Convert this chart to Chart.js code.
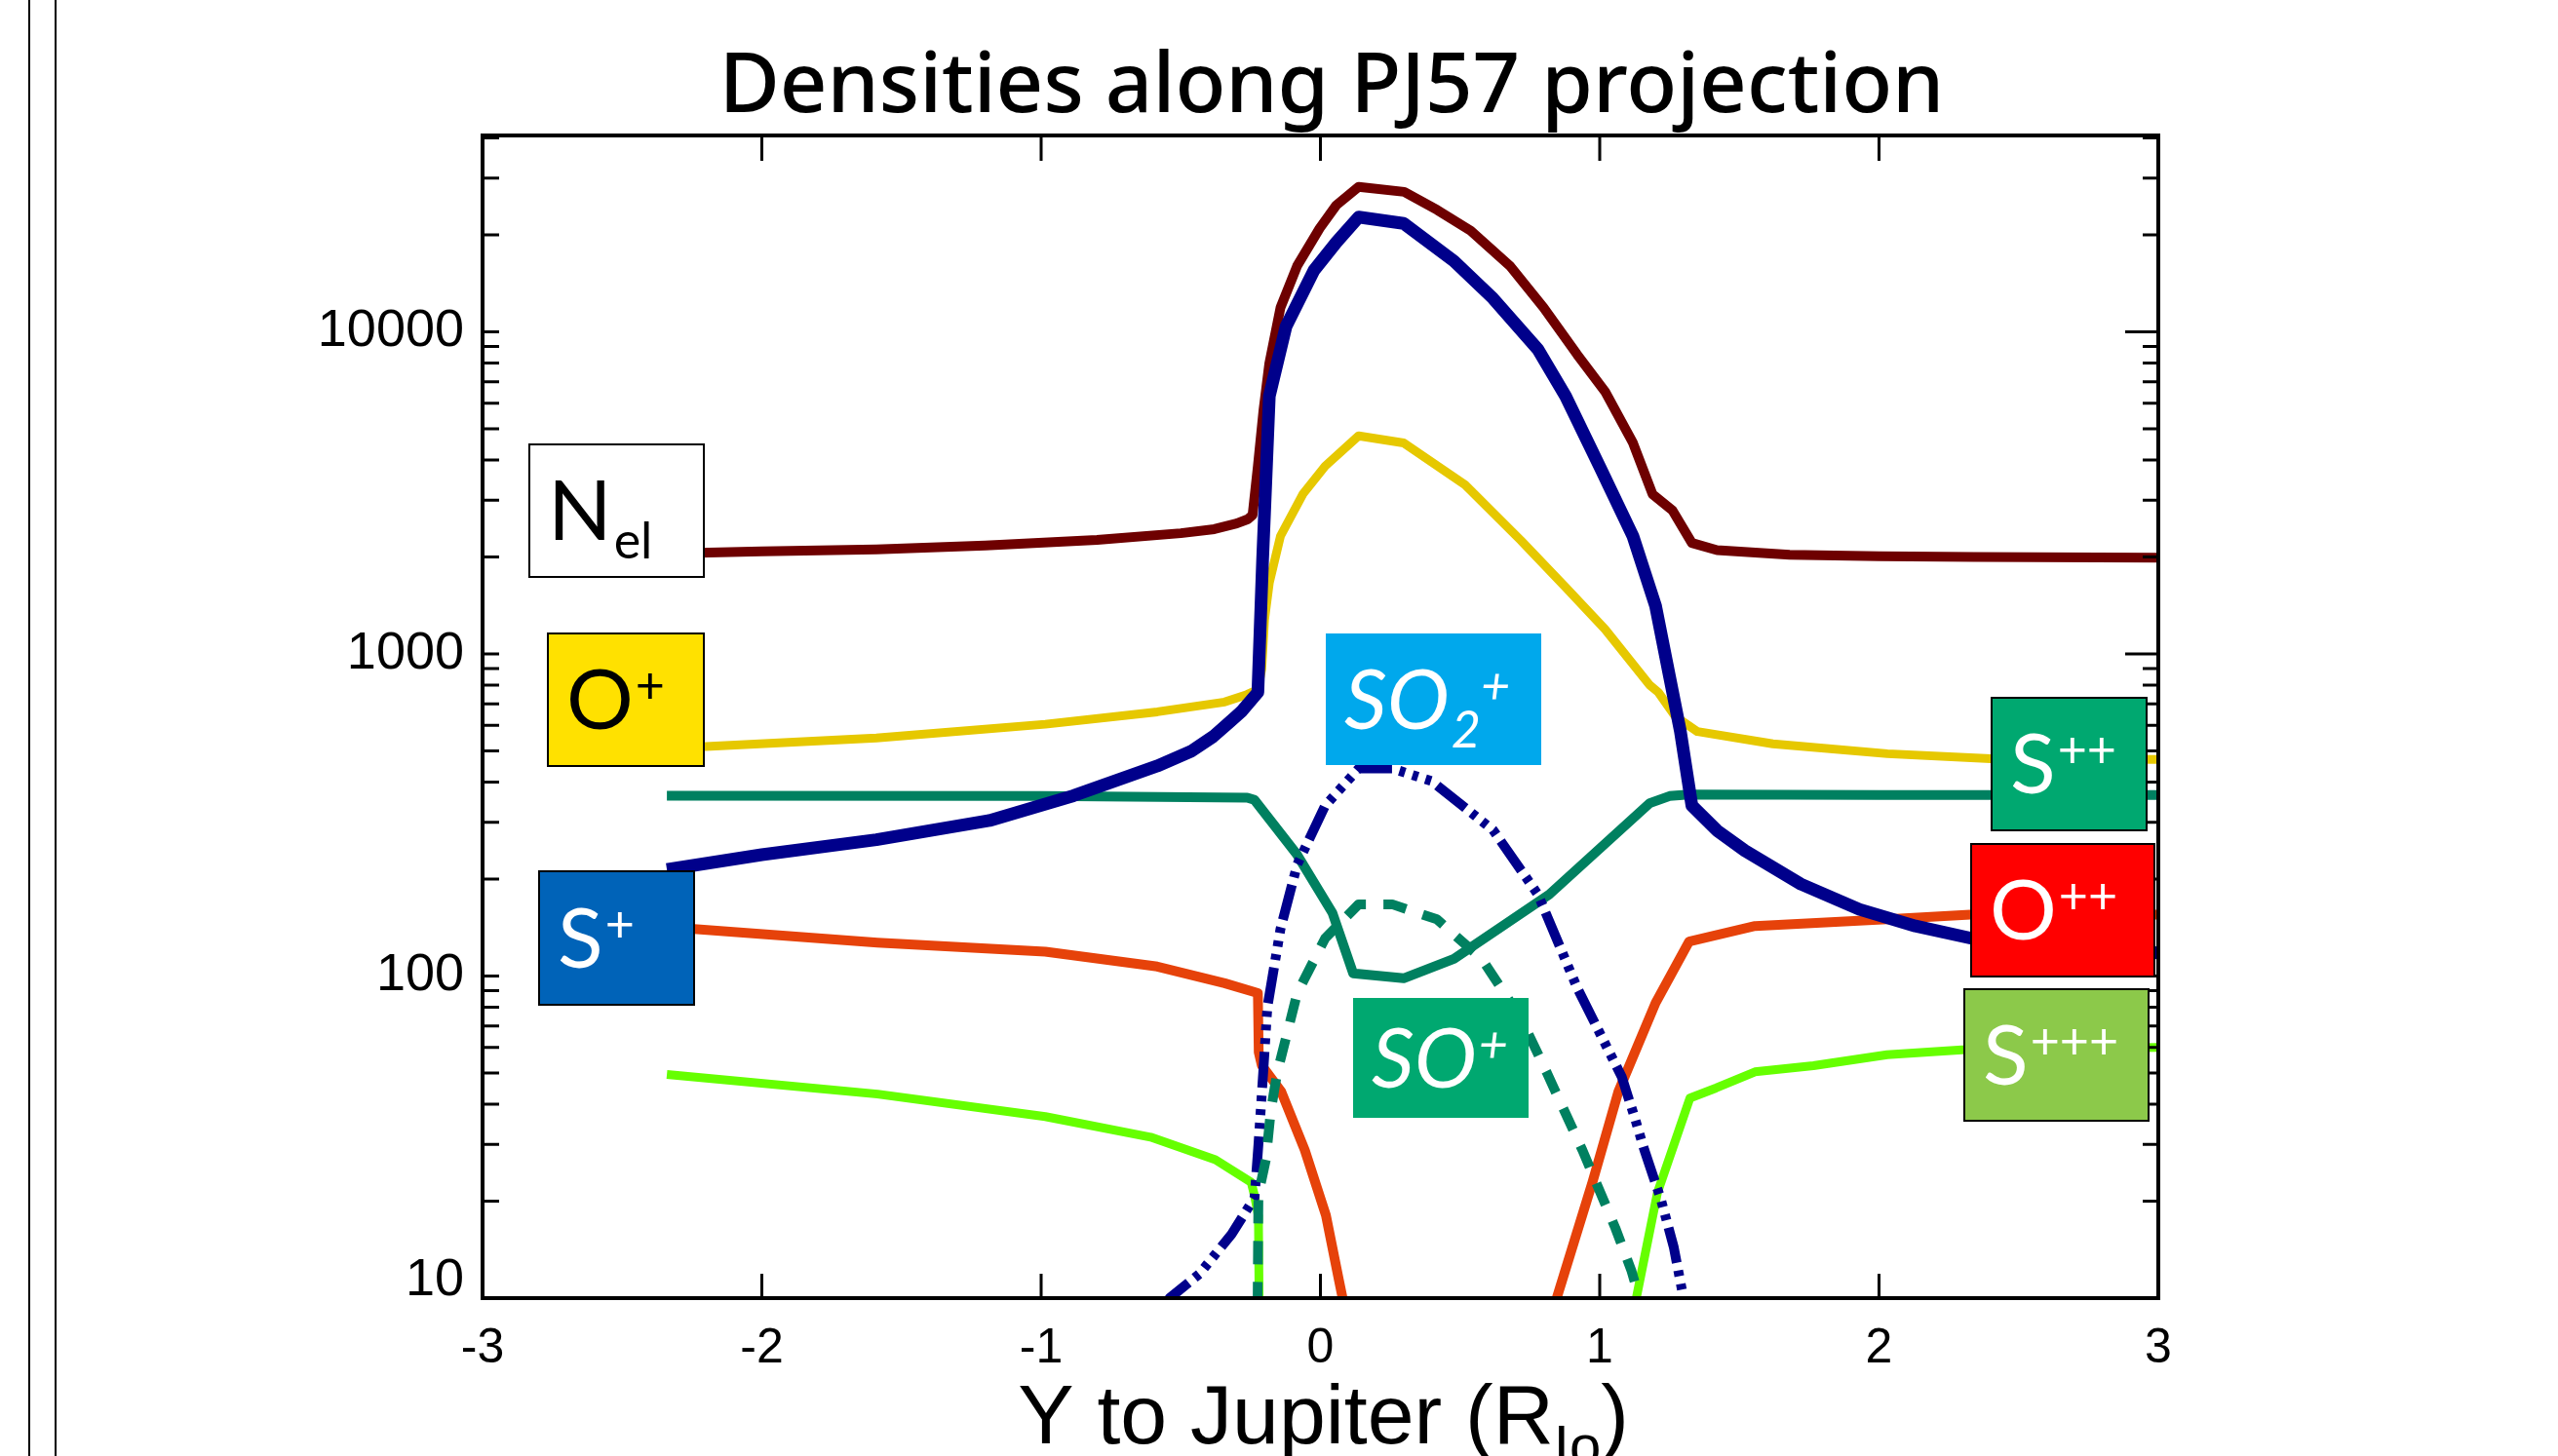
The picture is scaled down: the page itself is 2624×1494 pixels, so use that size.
<!DOCTYPE html>
<html>
<head>
<meta charset="utf-8">
<title>Densities along PJ57 projection</title>
<script src="https://cdn.jsdelivr.net/npm/chart.js@4.4.1/dist/chart.umd.min.js"></script>
<style>
  html, body { margin: 0; padding: 0; background: #fff; overflow: hidden; }
  #page { position: relative; width: 2624px; height: 1494px; }
  #plot { position: absolute; left: 0; top: 0; width: 2624px; height: 1494px; }
  .rule { position: absolute; top: 0; bottom: 0; width: 2px; background: #000; }
</style>
</head>
<body>
<div id="page">
  <div class="rule" style="left:29px"></div>
  <div class="rule" style="left:56px"></div>
  <div id="plot"><canvas id="densityChart"></canvas></div>
</div>
<script>
// densities along the PJ57 projection, x = Y to Jupiter (R_Io)
const nelX = [-2.34, -2.0, -1.59, -1.2, -0.8, -0.5, -0.38, -0.3, -0.26, -0.243, -0.224, -0.204, -0.183, -0.143, -0.083, -0.003, 0.057, 0.137, 0.30, 0.418, 0.538, 0.678, 0.799, 0.919, 1.019, 1.119, 1.189, 1.26, 1.33, 1.42, 1.68, 2.0, 2.34, 3.0];
const nelY = [2050, 2080, 2110, 2170, 2260, 2370, 2440, 2540, 2620, 2700, 3830, 5700, 7980, 11890, 16040, 20940, 24730, 28200, 27200, 23900, 20600, 16040, 11890, 8510, 6530, 4520, 3134, 2793, 2210, 2100, 2033, 2010, 2000, 1990];

const sPlusX = [-2.34, -2.0, -1.59, -1.185, -0.884, -0.584, -0.464, -0.384, -0.323, -0.284, -0.224, -0.207, -0.2, -0.183, -0.123, -0.023, 0.057, 0.137, 0.298, 0.478, 0.618, 0.779, 0.878, 0.999, 1.119, 1.2, 1.25, 1.289, 1.33, 1.42, 1.52, 1.72, 1.93, 2.13, 2.33, 3.0];
const sPlusY = [214, 238, 265, 304, 363, 449, 498, 554, 617, 661, 760, 1963, 2750, 6310, 10400, 15520, 18960, 22700, 21700, 16580, 12700, 8810, 6310, 3830, 2320, 1410, 850, 574, 338, 283, 245, 193, 161, 143, 131, 118];

const oPlusX = [-2.34, -2.2, -1.59, -0.985, -0.584, -0.343, -0.263, -0.224, -0.21, -0.2, -0.183, -0.143, -0.063, 0.017, 0.137, 0.298, 0.518, 0.718, 0.878, 1.019, 1.179, 1.21, 1.27, 1.35, 1.62, 2.03, 2.4, 3.0];
const oPlusY = [510, 516, 548, 605, 661, 709, 748, 775, 900, 1280, 1663, 2323, 3134, 3830, 4755, 4520, 3350, 2249, 1610, 1193, 800, 760, 640, 574, 526, 490, 473, 470];

const s2PlusX = [-2.34, -1.0, -0.262, -0.236, -0.085, 0.043, 0.117, 0.298, 0.478, 0.819, 1.179, 1.25, 1.32, 2.0, 3.0];
const s2PlusY = [363, 362, 358, 352, 239, 157, 102, 98.4, 113, 179, 344, 362, 366, 365, 365];

const o2PlusX = [-2.34, -2.243, -1.586, -0.985, -0.584, -0.343, -0.224, -0.221, -0.21, -0.14, -0.056, 0.0195, 0.066, 0.096, 0.45, 0.821, 0.846, 0.974, 1.067, 1.2, 1.32, 1.556, 2.029, 2.327, 3.0];
const o2PlusY = [142, 140, 127, 119, 107, 95, 88.5, 58, 52.8, 43.7, 28.8, 18.1, 11.4, 8.5, null, 8.5, 10, 22.9, 43.8, 82.5, 128, 143, 150, 155, 155];

const s3PlusX = [-2.34, -1.586, -0.985, -0.608, -0.376, -0.248, -0.236, -0.222, -0.219, 0.45, 1.125, 1.131, 1.207, 1.323, 1.416, 1.556, 1.765, 2.029, 2.297, 3.0];
const s3PlusY = [49.5, 43, 36.6, 31.6, 26.9, 22.9, 20.8, 18, 8.5, null, 8.5, 10, 21.3, 41.8, 44.9, 50.4, 52.7, 57, 59, 60];

const so2PlusX = [-0.56, -0.54, -0.433, -0.318, -0.236, -0.222, -0.205, -0.19, -0.143, -0.083, 0.017, 0.137, 0.257, 0.398, 0.618, 0.779, 0.919, 1.079, 1.125, 1.16, 1.218, 1.265, 1.30, 1.31];
const so2PlusY = [9.3, 10, 11.9, 15.8, 20.5, 30, 50, 80, 140, 222, 338, 441, 441, 403, 284, 179, 92, 48.6, 36.4, 28.8, 20.4, 14.4, 10, 9.3];

const soPlusX = [-0.225, -0.222, -0.195, -0.178, -0.155, -0.083, 0.017, 0.137, 0.257, 0.417, 0.578, 0.718, 0.811, 0.938, 1.056, 1.113, 1.15];
const soPlusY = [9.5, 21, 27, 38, 50, 88.5, 131, 167, 167, 150, 113, 74, 50, 28.8, 16.5, 12.2, 9.5];

const xTickValues = [-3, -2, -1, 0, 1, 2, 3];
const yTickValues = [10, 100, 1000, 10000];
const yMin = 10;
const yMax = 40700;

// species tags, pixel boxes inside the canvas
const tags = [
  { box: [543, 456, 179, 136], fill: '#ffffff', ink: '#000', border: true,
    parts: [{ t: 'N' }, { t: 'el', sub: true }] },
  { box: [562, 650, 160, 136], fill: '#ffe100', ink: '#000', border: true,
    parts: [{ t: 'O' }, { t: '+', sup: true }] },
  { box: [553, 894, 159, 137], fill: '#0063b8', ink: '#fff', border: true,
    parts: [{ t: 'S' }, { t: '+', sup: true }] },
  { box: [1360, 650, 221, 135], fill: '#00a8ec', ink: '#fff', border: false, italic: true,
    parts: [{ t: 'SO' }, { t: '2', sub: true }, { t: '+', sup: true }] },
  { box: [1388, 1024, 180, 123], fill: '#00a870', ink: '#fff', border: false, italic: true,
    parts: [{ t: 'SO' }, { t: '+', sup: true }] },
  { box: [2043, 716, 159, 136], fill: '#00a870', ink: '#fff', border: true,
    parts: [{ t: 'S' }, { t: '++', sup: true }] },
  { box: [2022, 866, 188, 136], fill: '#ff0000', ink: '#fff', border: true,
    parts: [{ t: 'O' }, { t: '++', sup: true }] },
  { box: [2015, 1015, 189, 135], fill: '#8cc94a', ink: '#fff', border: true,
    parts: [{ t: 'S' }, { t: '+++', sup: true }] }
];

function toPoints(xs, ys) {
  return xs.map((x, i) => ({ x: x, y: ys[i] }));
}

function series(label, xs, ys, color, width, dash) {
  return {
    label: label,
    data: toPoints(xs, ys),
    borderColor: color,
    backgroundColor: color,
    borderWidth: width,
    borderDash: dash || [],
    borderJoinStyle: 'round',
    tension: 0,
    pointRadius: 0,
    fill: false,
    spanGaps: false
  };
}

// frame, inward ticks, title, axis title and species tags
const decor = {
  id: 'decor',
  afterDatasetsDraw(chart) {
    const { ctx, chartArea: a, scales: { x, y } } = chart;
    ctx.save();

    // inward tick marks on all four sides
    ctx.strokeStyle = '#000';
    ctx.lineWidth = 3;
    ctx.beginPath();
    xTickValues.slice(1, -1).forEach(v => {
      const px = x.getPixelForValue(v);
      ctx.moveTo(px, a.bottom); ctx.lineTo(px, a.bottom - 25);
      ctx.moveTo(px, a.top); ctx.lineTo(px, a.top + 26);
    });
    yTickValues.forEach(dec => {
      const py = y.getPixelForValue(dec);
      ctx.moveTo(a.left, py); ctx.lineTo(a.left + 17, py);
      ctx.moveTo(a.right, py); ctx.lineTo(a.right - 34, py);
      for (let k = 2; k <= 9; k++) {
        const v = k * dec;
        if (v >= yMax) break;
        const pm = y.getPixelForValue(v);
        ctx.moveTo(a.left, pm); ctx.lineTo(a.left + 17, pm);
        ctx.moveTo(a.right, pm); ctx.lineTo(a.right - 16, pm);
      }
    });
    ctx.stroke();

    ctx.lineWidth = 4;
    ctx.strokeRect(a.left, a.top, a.right - a.left, a.bottom - a.top);

    // species tags
    tags.forEach(tag => {
      const [bx, by, bw, bh] = tag.box;
      ctx.fillStyle = tag.fill;
      ctx.fillRect(bx, by, bw, bh);
      if (tag.border) {
        ctx.lineWidth = 2;
        ctx.strokeStyle = '#000';
        ctx.strokeRect(bx, by, bw, bh);
      }
      const style = tag.italic ? 'italic ' : '';
      const base = by + bh / 2 + 30;
      let cx = bx + 19;
      ctx.fillStyle = tag.ink;
      ctx.textBaseline = 'alphabetic';
      ctx.textAlign = 'left';
      tag.parts.forEach(p => {
        const small = p.sub || p.sup;
        ctx.font = style + (small ? '52px' : '86px') + ' Lato';
        const dy = p.sub ? 19 : (p.sup ? -26 : 0);
        ctx.fillText(p.t, cx, base + dy);
        cx += ctx.measureText(p.t).width + (small ? 0 : 2);
      });
    });

    // chart title
    ctx.fillStyle = '#000';
    ctx.textAlign = 'center';
    ctx.textBaseline = 'alphabetic';
    ctx.font = '500 85px "Noto Sans"';
    ctx.fillText('Densities along PJ57 projection', 1366, 115);

    // x axis title with subscript
    const mainFont = '86px "Liberation Sans"';
    const subFont = '58px "Liberation Sans"';
    ctx.textAlign = 'left';
    ctx.font = mainFont;
    const w1 = ctx.measureText('Y to Jupiter (R').width;
    const w3 = ctx.measureText(')').width;
    ctx.font = subFont;
    const w2 = ctx.measureText('Io').width;
    let tx = (a.left + a.right) / 2 + 3 - (w1 + w2 + w3) / 2;
    const tb = 1481;
    ctx.font = mainFont;
    ctx.fillText('Y to Jupiter (R', tx, tb);
    tx += w1;
    ctx.font = subFont;
    ctx.fillText('Io', tx, tb + 22);
    tx += w2;
    ctx.font = mainFont;
    ctx.fillText(')', tx, tb);

    ctx.restore();
  }
};

const chart = new Chart(document.getElementById('densityChart'), {
  type: 'line',
  data: {
    datasets: [
      series('SO+', soPlusX, soPlusY, '#008060', 10, [24, 18]),
      series('SO2+', so2PlusX, so2PlusY, '#00008b', 10, [37, 8, 6, 8, 6, 8, 6, 8]),
      series('S+', sPlusX, sPlusY, '#00008b', 13),
      series('O++', o2PlusX, o2PlusY, '#e6420a', 10),
      series('Nel', nelX, nelY, '#6e0000', 10),
      series('O+', oPlusX, oPlusY, '#e6c800', 9),
      series('S++', s2PlusX, s2PlusY, '#008060', 10),
      series('S+++', s3PlusX, s3PlusY, '#66ff00', 9)
    ]
  },
  options: {
    responsive: true,
    maintainAspectRatio: false,
    animation: false,
    layout: { padding: { left: 0, right: 410, top: 139, bottom: 0 } },
    plugins: {
      legend: { display: false },
      tooltip: { enabled: false },
      title: { display: false }
    },
    scales: {
      x: {
        type: 'linear',
        min: -3,
        max: 3,
        afterBuildTicks: s => { s.ticks = xTickValues.map(v => ({ value: v })); },
        afterFit: s => { s.height = 162; },
        grid: { display: false, drawTicks: false },
        border: { display: false },
        ticks: {
          padding: 22,
          color: '#000',
          font: { family: 'Liberation Sans', size: 50 },
          callback: v => String(v)
        }
      },
      y: {
        type: 'logarithmic',
        min: yMin,
        max: yMax,
        afterBuildTicks: s => { s.ticks = yTickValues.map(v => ({ value: v })); },
        afterFit: s => { s.width = 495; },
        grid: { display: false, drawTicks: false },
        border: { display: false },
        ticks: {
          padding: 19,
          color: '#000',
          font: { family: 'Liberation Sans', size: 54, lineHeight: '36px' },
          // the bottom label sits just above the axis line
          callback: v => (v === yMin ? ['10', ''] : String(v))
        }
      }
    }
  },
  plugins: [decor]
});
</script>
</body>
</html>
